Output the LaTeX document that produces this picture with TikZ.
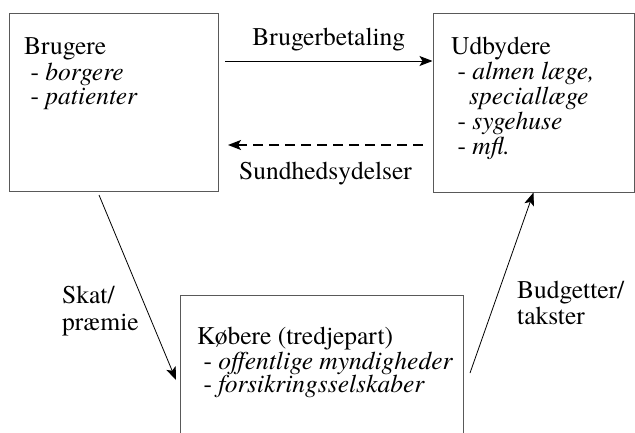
\documentclass[tikz,border=0pt]{standalone}
\usepackage{fontspec}
\IfFontExistsTF{texgyretermes-regular.otf}
  {\setmainfont{texgyretermes-regular.otf}[ItalicFont=texgyretermes-italic.otf, BoldFont=texgyretermes-bold.otf]}
  {\setmainfont{Liberation Serif}}
\usepackage{tikz}
\usetikzlibrary{arrows.meta}
\usetikzlibrary{positioning}
\newcommand{\dk}[1]{\textit{#1}}

\begin{document}
\begin{tikzpicture}[x=1pt, y=-1pt,
  actor/.style={draw=black!65, line width=1pt, rectangle, inner sep=0pt},
  boxtext/.style={anchor=north west, inner sep=0pt, align=left},
  flow/.style={-{Stealth[length=13pt,width=10pt,inset=3pt]}, line width=0.8pt},
  lbl/.style={inner sep=0pt, align=left}]
  \useasboundingbox (0,0) rectangle (635,432);
  % the three actors
  \node[actor, minimum width=209pt, minimum height=178pt] (brugere) at (113.5,102) {};
  \node[actor, minimum width=201pt, minimum height=179pt] (udbydere) at (533.5,102.5) {};
  \node[actor, minimum width=283pt, minimum height=180pt] (koebere) at (321.5,385) {};
  \node[boxtext, font=\fontsize{25.5}{24.5}\selectfont] (brugere-txt) at (24,37) {\strut Brugere\\\ - \dk{borgere}\\\ - \dk{patienter}};
  \node[boxtext, font=\fontsize{25.5}{25}\selectfont] (udbydere-txt) at (451,36.5) {\strut Udbydere\\\ - \dk{almen læge,}\\\hspace{18pt}\dk{speciallæge}\\\ - \dk{sygehuse}\\\ - \dk{mfl.}};
  \node[boxtext, font=\fontsize{25.5}{22}\selectfont] (koebere-txt) at (197,326.6) {\strut Købere (tredjepart)\\\ - \dk{offentlige myndigheder}\\\ - \dk{forsikringsselskaber}};
  % arrow ends
  \coordinate (betal-from) at (225,61);
  \coordinate (ydelse-from) at (423,145);
  \coordinate (ydelse-to) at (228,145);
  \coordinate (skat-from) at (99,195);
  \coordinate (skat-to) at (176,380);
  \coordinate (budget-from) at (470,373);
  % flows
  \draw[flow] (betal-from) -- (udbydere.west |- betal-from)
    node[midway, above=9.5pt, lbl, font=\fontsize{25.5}{25}\selectfont] (betal-lbl) {Brugerbetaling};
  \draw[flow, line width=1.4pt, dash pattern=on 10pt off 6pt] (ydelse-from) -- (ydelse-to)
    node[midway, below=16.6pt, lbl, font=\fontsize{25.5}{25}\selectfont] (ydelse-lbl) {Sundhedsydelser};
  \draw[flow] (skat-from) -- (skat-to);
  \draw[flow] (budget-from) -- (udbydere.south);
  \node[boxtext, font=\fontsize{25.5}{27}\selectfont] (skat-lbl) at (62,284) {\strut Skat/\\præmie};
  \node[boxtext, font=\fontsize{25.5}{24}\selectfont] (budget-lbl) at (517,281) {\strut Budgetter/\\takster};
\end{tikzpicture}
\end{document}
